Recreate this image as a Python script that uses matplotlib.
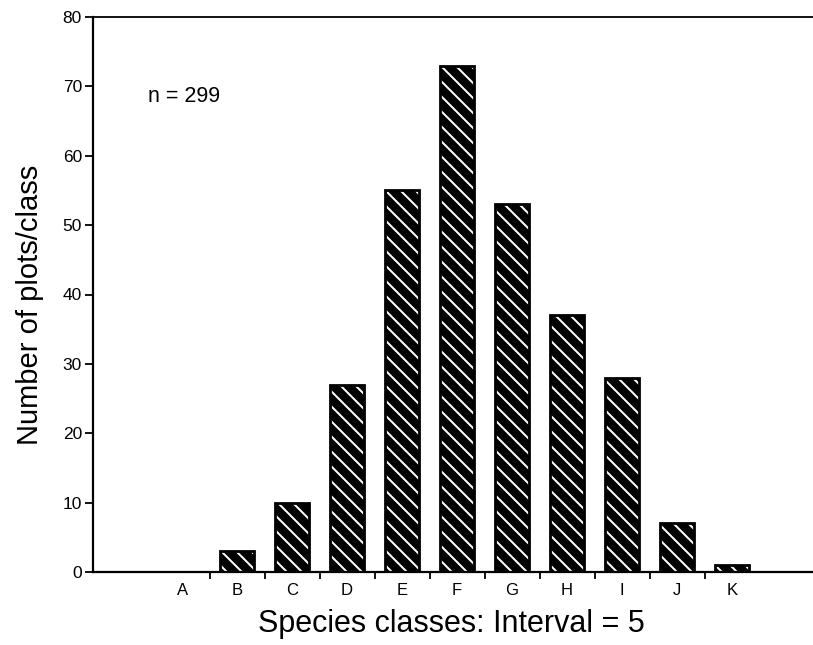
import matplotlib
matplotlib.use("Agg")
import matplotlib.pyplot as plt
import numpy as np

# Frequency of plots per species-richness class
classes = ["A", "B", "C", "D", "E", "F", "G", "H", "I", "J", "K"]
counts = [0, 3, 10, 27, 55, 73, 53, 37, 28, 7, 1]
y_ticks = [0, 10, 20, 30, 40, 50, 60, 70, 80]
note = "n = 299"

# The hatch pattern repeats once per inch, so the output resolution sets
# the stripe spacing; sizes below are given for 100 dpi and rescaled.
DPI = 90
k = 100 / DPI

plt.rcParams["font.family"] = ["Liberation Sans", "DejaVu Sans"]
plt.rcParams["hatch.linewidth"] = 1.6

W, H = 813, 645
fig = plt.figure(figsize=(W / DPI, H / DPI), dpi=DPI)
ax = fig.add_axes([93 / W, 1 - 572 / H, 1 - 93 / W + 0.002, (572 - 17) / H])

x = np.arange(len(classes))
# black-filled bars with white diagonal stripes, then a black outline on top
ax.bar(x, counts, width=0.62, color="black", edgecolor="white",
       hatch="\\\\", linewidth=0, zorder=2)
ax.bar(x, counts, width=0.62, fill=False, edgecolor="black",
       linewidth=2.0 * k, zorder=3)

ax.set_xlim(-1.62, 11.5)
ax.set_ylim(0, 80)
ax.set_yticks(y_ticks)
ax.set_yticklabels([str(v) for v in y_ticks], fontsize=12.5 * k)

# class boundaries carry the tick marks, class centres carry the letters
ax.set_xticks(x[:-1] + 0.5)
ax.set_xticklabels([])
ax.set_xticks(x, minor=True)
ax.set_xticklabels(classes, minor=True, fontsize=12 * k)
ax.tick_params(axis="x", which="major", direction="out",
               length=5 * k, width=1.3 * k)
ax.tick_params(axis="x", which="minor", length=0, pad=8 * k)
ax.tick_params(axis="y", direction="out", length=6 * k, width=1.3 * k,
               pad=2 * k)

for side in ("left", "bottom"):
    ax.spines[side].set_linewidth(1.6 * k)
ax.spines["top"].set_linewidth(1.3 * k)
ax.spines["right"].set_visible(False)

ax.text(148 / W, 1 - 97 / H, note, transform=fig.transFigure,
        fontsize=15.5 * k, ha="left", va="center")

fig.text(451 / W, 1 - 624 / H, "Species classes: Interval = 5",
         fontsize=22 * k, ha="center", va="center")
fig.text(30 / W, 1 - 305 / H, "Number of plots/class",
         fontsize=21 * k, ha="center", va="center", rotation=90)

fig.savefig("out.png", dpi=DPI, facecolor="white")
